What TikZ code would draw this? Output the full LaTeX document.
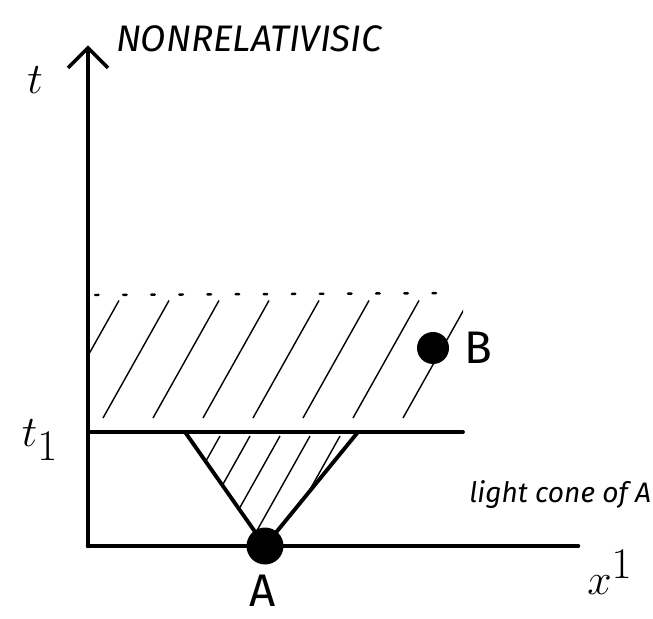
\documentclass[tikz,border=0pt]{standalone}
\usepackage{fontspec}
\setsansfont{Fira Sans}
\usetikzlibrary{arrows.meta, positioning}

\begin{document}
\begin{tikzpicture}[
    axis/.style={line width=2.6pt, line cap=round},
    bar/.style={line width=2.2pt, line cap=round},
    hatch/.style={line width=0.8pt},
    dot/.style={circle, fill, inner sep=0pt},
    lbl/.style={font=\sffamily\itshape\fontsize{16}{18}\selectfont, inner sep=0pt},
    pt/.style={font=\sffamily\fontsize{26}{28}\selectfont, inner sep=0pt},
    sym/.style={font=\fontsize{36}{38}\selectfont, inner sep=0pt}
]
    \useasboundingbox (0,0) rectangle (13.06,12.36);
    \coordinate (o) at (1.76,1.44);
    \coordinate (ttop) at (1.76,11.45);
    \coordinate (xend) at (11.56,1.44);
    \coordinate (t1l) at (1.76,3.72);
    \coordinate (t1r) at (9.26,3.72);
    \coordinate (conel) at (3.7,3.72);
    \coordinate (coner) at (7.16,3.72);
    \coordinate (dotl) at (1.9,6.46);
    \coordinate (dotr) at (9.2,6.5);
    \node[dot, minimum size=0.74cm] (A) at (5.3,1.44) {};
    \node[dot, minimum size=0.64cm] (B) at (8.66,5.4) {};

    % shaded strip above t_1
    \begin{scope}
        \clip (t1l) rectangle (9.26,6.48);
        \foreach \x in {1.06,2.06,...,8.06}
            \draw[hatch] (\x,4.0) -- ++(1.32,2.35);
    \end{scope}
    % inside the cone
    \begin{scope}
        \clip (conel) -- (coner) -- (A.center) -- cycle;
        \foreach \x in {3.2,3.8,...,6.8}
            \draw[hatch] (\x,1.5) -- ++(1.2,2.14);
    \end{scope}
    \draw[line width=1.4pt, line cap=round, dash pattern=on 2pt off 14pt] (dotl) -- (dotr);

    \draw[axis, -{Straight Barb[length=4mm,width=8mm,line width=2pt]}] (o) -- (ttop);
    \draw[axis] (o) -- (xend);
    \draw[bar] (t1l) -- (t1r);
    \draw[bar] (conel) -- (A.center);
    \draw[bar] (coner) -- (A.center);

    \node[sym] (t) at (0.7,10.76) {$t$};
    \node[sym] (t1) at (0.8,3.56) {$t_1$};
    \node[sym] (x1) at (12.2,0.92) {$x^1$};
    \node[pt, anchor=north] (Alabel) at (5.26,0.86) {A};
    \node[pt, right=0.3 of B] (Blabel) {B};
    \node[lbl, anchor=west] (cone) at (9.38,2.46) {light cone of A};
    \node[lbl, font=\sffamily\itshape\fontsize{21}{23}\selectfont] (title) at (4.98,11.58) {NONRELATIVISIC};
\end{tikzpicture}
\end{document}
